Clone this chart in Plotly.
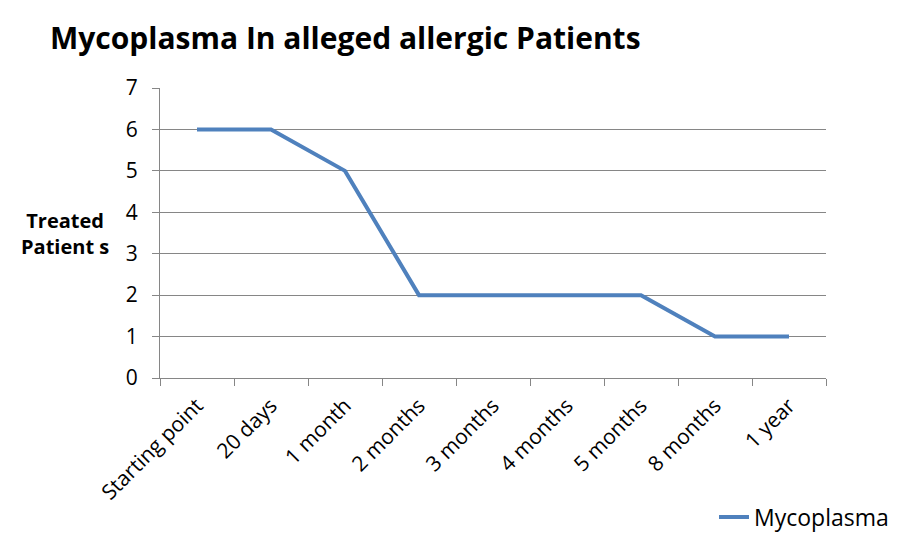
import plotly.graph_objects as go

categories = ["Starting point", "20 days", "1 month", "2 months", "3 months",
              "4 months", "5 months", "8 months", "1 year"]
mycoplasma = [6, 6, 5, 2, 2, 2, 2, 1, 1]
y_ticks = [0, 1, 2, 3, 4, 5, 6, 7]

FONT = "Open Sans"
W, H = 892, 531  # page has an 8px body margin

fig = go.Figure()
fig.add_trace(go.Scatter(
    x=categories, y=mycoplasma, mode="lines", name="Mycoplasma",
    line=dict(color="#4F81BD", width=4),
))

fig.update_layout(
    width=W, height=H,
    margin=dict(l=152, r=74, t=80, b=161, autoexpand=False),
    paper_bgcolor="white", plot_bgcolor="white",
    font=dict(family=FONT, size=20, color="#000000"),
    title=dict(text="<b>Mycoplasma In alleged allergic Patients</b>",
               x=42/W, xanchor="left", y=1-30/H, yanchor="middle",
               font=dict(size=30, family=FONT)),
    showlegend=True,
    legend=dict(x=(714-160)/666, y=(378-517)/290, xanchor="left", yanchor="middle",
                font=dict(size=23, family=FONT), bgcolor="rgba(0,0,0,0)",
                itemwidth=30),
    xaxis=dict(
        type="category", tickson="boundaries", ticks="outside", ticklen=7,
        tickcolor="#868686", showline=True, linecolor="#868686", linewidth=1,
        showgrid=False, tickangle=-45, tickfont=dict(size=21, family=FONT),
        range=[-0.5, len(categories) - 0.5], automargin=False,
        ticklabelstandoff=6,
    ),
    yaxis=dict(
        range=[0, 7], tickvals=y_ticks, ticks="outside", ticklen=7,
        tickcolor="#868686", showline=True, linecolor="#868686", linewidth=1,
        showgrid=True, gridcolor="#868686", gridwidth=1,
        tickfont=dict(size=21, family=FONT), zeroline=False, automargin=False,
        ticklabelstandoff=10,
    ),
    annotations=[dict(
        text="<b>Treated<br>Patient s</b>", x=(65-160)/666, y=(378-233)/290,
        xref="paper", yref="paper", showarrow=False, align="center",
        font=dict(size=20, family=FONT), xanchor="center", yanchor="middle",
    )],
)

fig.write_html("out.html")
